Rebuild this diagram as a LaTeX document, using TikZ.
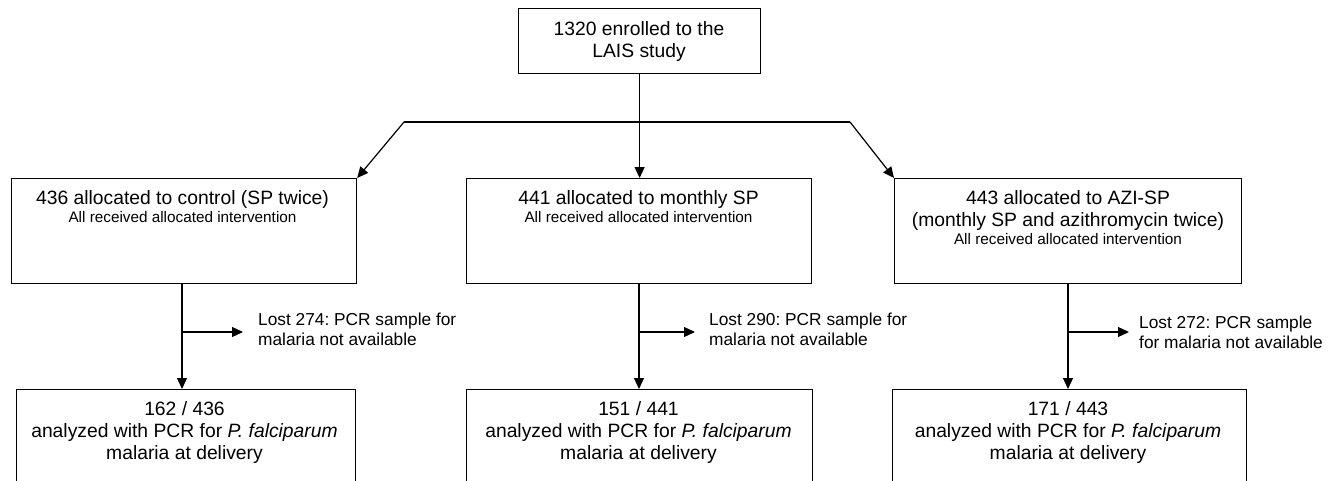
\documentclass[tikz,border=0pt]{standalone}
\usepackage{fontspec}
\setmainfont{Liberation Sans}
\usetikzlibrary{arrows.meta}
\frenchspacing
\begin{document}
\begin{tikzpicture}[x=1pt,y=-1pt,
  box/.style={draw, line width=1.2pt, inner sep=0pt, anchor=north west},
  txt/.style={inner sep=0pt, anchor=north, align=center, font=\fontsize{19.3}{22}\selectfont},
  losttxt/.style={inner sep=0pt, anchor=north west, align=left, font=\fontsize{17.3}{19.5}\selectfont},
  conn/.style={line width=1.2pt},
  arr/.style={line width=1.2pt, -{Triangle[length=11pt,width=10pt]}}]
\useasboundingbox (0,0) rectangle (1336,480);
\clip (0,0) rectangle (1336,480);
\fill[white] (0,0) rectangle (1336,480);
\newcommand{\smalltxt}[1]{{\fontsize{15.3}{22}\selectfont #1}}

% top box
\node[box, minimum width=242pt, minimum height=65pt] (top) at (518,8) {};
\node[txt] (topt) at (639,21) {1320 enrolled to the\\LAIS study};

% allocation boxes
\node[box, minimum width=345pt, minimum height=105pt] (ctrl) at (11,178) {};
\node[box, minimum width=345pt, minimum height=105pt] (msp) at (466,178) {};
\node[box, minimum width=347pt, minimum height=105pt] (azi) at (894,178) {};
\node[txt] (ctrlt) at (182.5,190) {436 allocated to control (SP twice)\\[-3.5pt]\smalltxt{All received allocated intervention}};
\node[txt] (mspt) at (638.5,190) {441 allocated to monthly SP\\[-3.5pt]\smalltxt{All received allocated intervention}};
\node[txt] (azit) at (1068,190) {443 allocated to AZI-SP\\(monthly SP and azithromycin twice)\\[-3.5pt]\smalltxt{All received allocated intervention}};

% analysed boxes
\node[box, minimum width=339pt, minimum height=130pt] (ctrlb) at (16,389) {};
\node[box, minimum width=346pt, minimum height=130pt] (mspb) at (466,389) {};
\node[box, minimum width=354pt, minimum height=130pt] (azib) at (892,389) {};
\node[txt] (ctrlbt) at (184.5,401) {162 / 436\\analyzed with PCR for \textit{P. falciparum}\\malaria at delivery};
\node[txt] (mspbt) at (638.5,401) {151 / 441\\analyzed with PCR for \textit{P. falciparum}\\malaria at delivery};
\node[txt] (azibt) at (1068,401) {171 / 443\\analyzed with PCR for \textit{P. falciparum}\\malaria at delivery};

% lost labels
\node[losttxt] (ctrll) at (258,313) {Lost 274: PCR sample for\\malaria not available};
\node[losttxt] (mspl) at (709,313) {Lost 290: PCR sample for\\malaria not available};
\node[losttxt] (azil) at (1139,316) {Lost 272: PCR sample\\for malaria not available};

% split
\coordinate (jl) at (404,122);
\coordinate (jr) at (850,122);
\draw[arr] (top.south) -- (top.south |- msp.north);
\draw[conn] (jl) -- (jr);
\draw[arr] (jl) -- (ctrl.north east);
\draw[arr] (jr) -- (azi.north west);

% control column
\coordinate (cv) at (182,283);
\coordinate (cj) at (182,332);
\coordinate (ce) at (243,332);
\draw[arr] (cv) -- (cv |- ctrlb.north);
\draw[arr] (cj) -- (ce);

% monthly SP column
\coordinate (mv) at (639,283);
\coordinate (mj) at (639,332);
\coordinate (me) at (695,332);
\draw[arr] (mv) -- (mv |- mspb.north);
\draw[arr] (mj) -- (me);

% AZI-SP column
\coordinate (av) at (1068,283);
\coordinate (aj) at (1068,332);
\coordinate (ae) at (1129,332);
\draw[arr] (av) -- (av |- azib.north);
\draw[arr] (aj) -- (ae);
\end{tikzpicture}
\end{document}
